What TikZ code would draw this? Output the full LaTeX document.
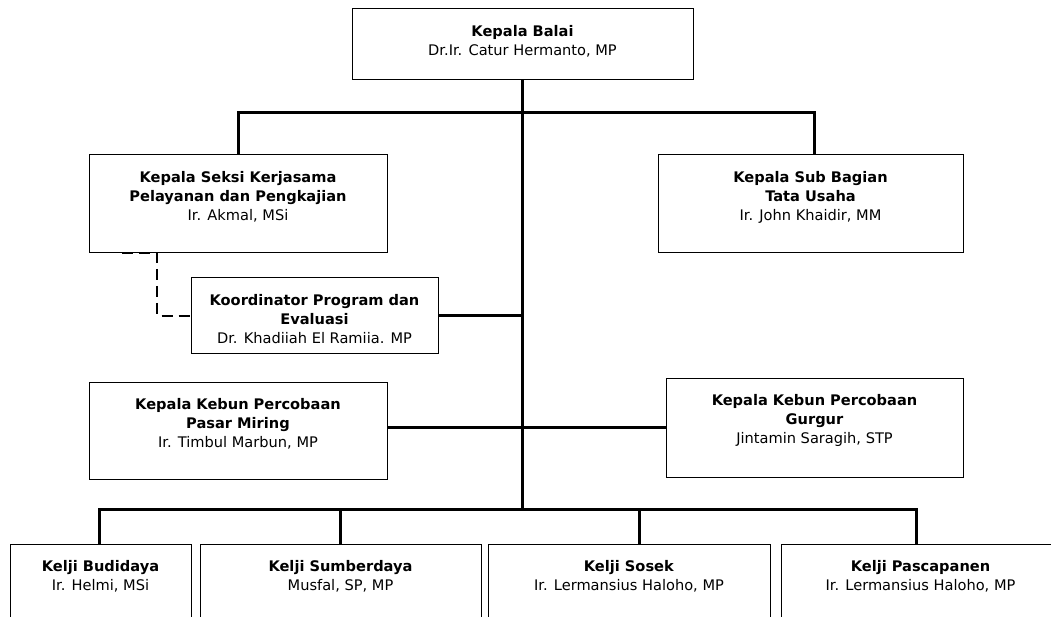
\documentclass[tikz,border=0pt]{standalone}
\usepackage{fontspec}
\setmainfont{DejaVu Sans}
\usepackage{tikz}
\usetikzlibrary{positioning}

\tikzset{
	unit/.style={draw, line width=1pt, inner sep=0pt, outer sep=0pt},
	isi/.style={anchor=north, inner sep=0pt, outer sep=0pt, yshift=-16pt, align=center,
		font=\fontsize{14.6}{19}\selectfont},
	jalur/.style={line width=3pt},
	putus/.style={line width=2pt, dash pattern=on 11pt off 6pt}
}

\begin{document}
\begin{tikzpicture}[x=1pt, y=-1pt]
	% tikz code goes here
	\clip (0, 0) rectangle (1051, 617);
	\node[unit, minimum width=341, minimum height=71, label={[isi]north:{\textbf{Kepala Balai}\\Dr.Ir. Catur Hermanto, MP}}] (balai) at (522.5, 44.5) {};
	\node[unit, minimum width=298, minimum height=98, label={[isi]north:{\textbf{Kepala Seksi Kerjasama}\\\textbf{Pelayanan dan Pengkajian}\\Ir. Akmal, MSi}}] (seksi) at (238, 204) {};
	\node[unit, minimum width=305, minimum height=98, label={[isi]north:{\textbf{Kepala Sub Bagian}\\\textbf{Tata Usaha}\\Ir. John Khaidir, MM}}] (tu) at (810.5, 204) {};
	\node[unit, minimum width=247, minimum height=75, label={[isi]north:{\textbf{Koordinator Program dan}\\\textbf{Evaluasi}\\Dr. Khadiiah El Ramiia. MP}}] (koord) at (314.5, 315.5) {};
	\node[unit, minimum width=298, minimum height=97, label={[isi]north:{\textbf{Kepala Kebun Percobaan}\\\textbf{Pasar Miring}\\Ir. Timbul Marbun, MP}}] (kp1) at (238, 430.5) {};
	\node[unit, minimum width=297, minimum height=99, label={[isi]north:{\textbf{Kepala Kebun Percobaan}\\\textbf{Gurgur}\\Jintamin Saragih, STP}}] (kp2) at (814.5, 427.5) {};
	\node[unit, minimum width=181, minimum height=100, label={[isi]north:{\textbf{Kelji Budidaya}\\Ir. Helmi, MSi}}] (k1) at (100.5, 594) {};
	\node[unit, minimum width=281, minimum height=100, label={[isi]north:{\textbf{Kelji Sumberdaya}\\Musfal, SP, MP}}] (k2) at (340.5, 594) {};
	\node[unit, minimum width=282, minimum height=100, label={[isi]north:{\textbf{Kelji Sosek}\\Ir. Lermansius Haloho, MP}}] (k3) at (629, 594) {};
	\node[unit, minimum width=279, minimum height=100, label={[isi]north:{\textbf{Kelji Pascapanen}\\Ir. Lermansius Haloho, MP}}] (k4) at (920.5, 594) {};
	\coordinate (atas) at (522.5, 113);
	\coordinate (tengah) at (522.5, 427);
	\coordinate (bus) at (522.5, 509);
	\draw[jalur] (balai.south) -- (bus);
	\draw[jalur] (seksi.north) |- (atas) -| ([xshift=4pt]tu.north);
	\draw[jalur] (koord.east) -- (koord.east -| atas);
	\draw[jalur] (kp1.east |- tengah) -- (kp2.west |- tengah);
	\draw[jalur] ([xshift=-1.5pt]k1.north) |- (bus) -| ([xshift=-4.5pt]k4.north);
	\draw[jalur] (k2.north) -- (k2.north |- bus);
	\draw[jalur] ([xshift=10pt]k3.north) -- ([xshift=10pt]k3.north |- bus);
	\draw[putus] ([xshift=33pt]seksi.south west) -- ([xshift=68pt]seksi.south west) |- (koord.west);
\end{tikzpicture}
\end{document}
